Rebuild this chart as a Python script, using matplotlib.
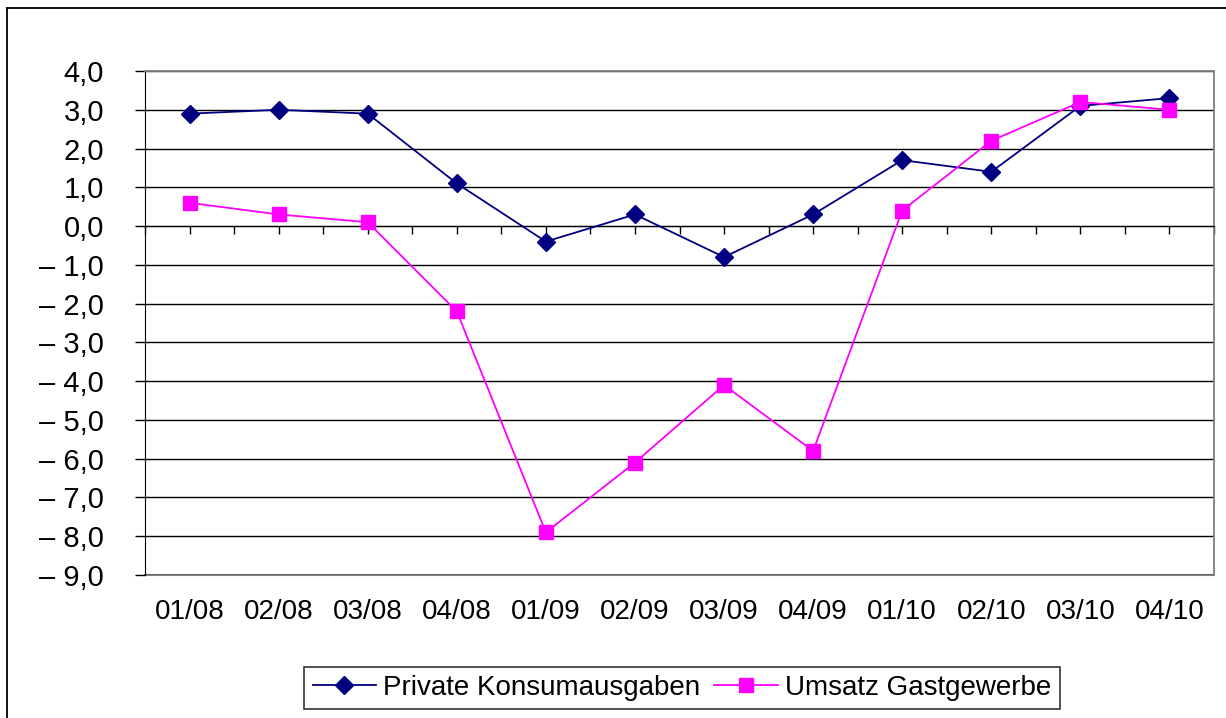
import matplotlib

matplotlib.use("Agg")
import matplotlib.pyplot as plt  # noqa: E402
from matplotlib.lines import Line2D  # noqa: E402

plt.rcParams.update({
    "font.family": ["Liberation Sans", "DejaVu Sans"],
    "font.size": 20,
    "figure.facecolor": "white",
    "axes.facecolor": "white",
})

quarters = ["01/08", "02/08", "03/08", "04/08", "01/09", "02/09",
            "03/09", "04/09", "01/10", "02/10", "03/10", "04/10"]
konsum = [2.9, 3.0, 2.9, 1.1, -0.4, 0.3, -0.8, 0.3, 1.7, 1.4, 3.1, 3.3]
gastgewerbe = [0.6, 0.3, 0.1, -2.2, -7.9, -6.1, -4.1, -5.8, 0.4, 2.2, 3.2, 3.0]
y_ticks = [4, 3, 2, 1, 0, -1, -2, -3, -4, -5, -6, -7, -8, -9]
y_labels = ["4,0", "3,0", "2,0", "1,0", "0,0", "– 1,0", "– 2,0", "– 3,0",
            "– 4,0", "– 5,0", "– 6,0", "– 7,0", "– 8,0", "– 9,0"]

W, H = 1226, 718
fig = plt.figure(figsize=(W / 100, H / 100), dpi=100)
ax = fig.add_axes([145 / W, 1 - 575 / H, (1214 - 145) / W, (575 - 71) / H])

x = list(range(len(quarters)))
ax.plot(x, konsum, color="#000080", lw=1.3, marker="D", ms=9.5,
        label="Private Konsumausgaben", zorder=3)
ax.plot(x, gastgewerbe, color="#FF00FF", lw=1.3, marker="s", ms=10.5,
        label="Umsatz Gastgewerbe", zorder=3)

ax.set_xlim(-0.5, len(quarters) - 0.5)
ax.set_ylim(-9, 4)

# horizontal gridlines
ax.set_yticks(y_ticks)
ax.set_yticklabels(y_labels, fontsize=21)
ax.yaxis.grid(True, color="black", lw=1.0)
ax.set_axisbelow(True)
ax.tick_params(axis="y", length=7.5, width=1, pad=22, color="black")

# category axis crosses at 0, labels sit below the plot area
ax.spines["bottom"].set_position(("data", 0))
ax.spines["bottom"].set_color("black")
ax.set_xticks(x)
ax.set_xticks([i - 0.5 for i in x] + [len(x) - 0.5], minor=True)
ax.tick_params(axis="x", which="both", length=6, width=1, direction="out",
               labelbottom=False, color="black")

for side in ("top", "right"):
    ax.spines[side].set_color("#808080")
    ax.spines[side].set_linewidth(1.3)
ax.spines["left"].set_color("black")

sec = ax.secondary_xaxis(0.0)
sec.set_xticks(x)
sec.set_xticklabels(quarters)
sec.tick_params(length=0, pad=17)
sec.spines["bottom"].set_color("#808080")
sec.spines["bottom"].set_linewidth(1.5)

leg = ax.legend(loc="center", bbox_to_anchor=(682 / W, 1 - 688 / H),
                bbox_transform=fig.transFigure, ncol=2, frameon=True,
                fancybox=False, edgecolor="black", handlelength=2.3,
                handletextpad=0.25, columnspacing=0.5, borderpad=0.3,
                fontsize=20)
leg.get_frame().set_linewidth(1.2)

# outer chart frame (cut off at right and bottom)
fig.add_artist(Line2D([7 / W, 7 / W], [0, 1 - 8 / H], color="black", lw=1.3,
                      transform=fig.transFigure))
fig.add_artist(Line2D([7 / W, 1], [1 - 8 / H, 1 - 8 / H], color="black", lw=1.3,
                      transform=fig.transFigure))

fig.savefig("out.png", dpi=100)
